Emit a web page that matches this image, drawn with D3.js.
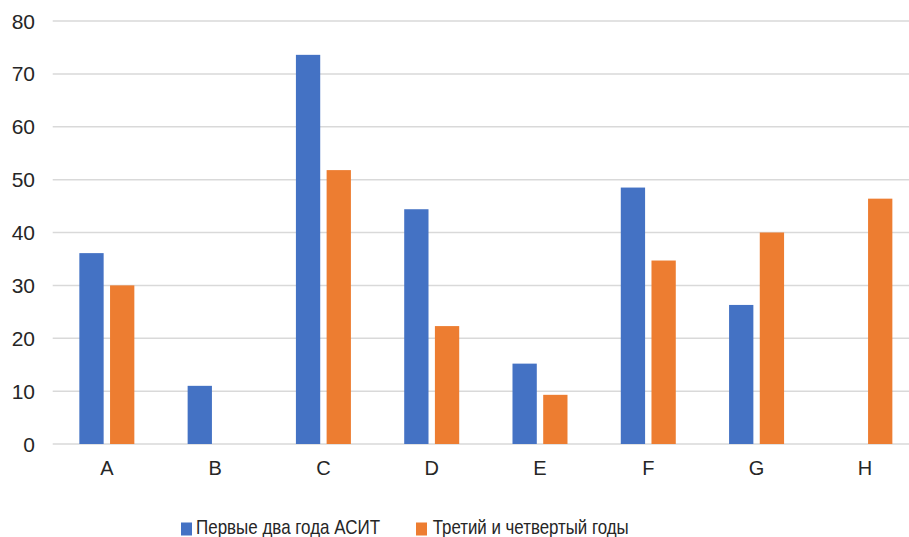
<!DOCTYPE html>
<html><head><meta charset="utf-8">
<script src="https://cdn.jsdelivr.net/npm/d3@7/dist/d3.min.js"></script>
<style>body{margin:0;background:#fff}svg{display:block}text{font-family:"Liberation Sans",Arial,sans-serif;fill:#262626}</style>
</head><body><svg id="c" width="909" height="537"></svg>
<script>
const categories = ["A","B","C","D","E","F","G","H"];
const seriesNames = ["Первые два года АСИТ","Третий и четвертый годы"];
const firstTwoYears = [36.1, 11.0, 73.6, 44.4, 15.2, 48.5, 26.3, null];
const thirdFourthYears = [30.0, null, 51.8, 22.3, 9.3, 34.7, 40.0, 46.4];
const yTicks = [0,10,20,30,40,50,60,70,80];
const colors = ["#4472C4","#ED7D31"];

const svg = d3.select("#c");
const mLeft = 52.7, mRight = 919, mTop = 21, mBottom = 444;
const y = d3.scaleLinear().domain([0,80]).range([mBottom, mTop]);
const x0 = d3.scaleBand().domain(categories).range([mLeft, mRight]).padding(0);
const groupW = 55, off = (x0.bandwidth() - groupW) / 2;
const x1 = d3.scaleBand().domain([0,1]).range([off, off + groupW]).paddingInner(0.2085);

// gridlines
svg.append("g").selectAll("line").data(yTicks).join("line")
  .attr("x1", mLeft).attr("x2", mRight)
  .attr("y1", d => y(d)).attr("y2", d => y(d))
  .attr("stroke", "#d9d9d9").attr("stroke-width", 1.5);

// y labels
svg.append("g").selectAll("text").data(yTicks).join("text")
  .attr("x", 35).attr("y", d => y(d)).attr("dy", "0.36em")
  .attr("text-anchor", "end").attr("font-size", 21).text(d => d);

// bars
const series = [firstTwoYears, thirdFourthYears];
series.forEach((vals, si) => {
  svg.append("g").selectAll("rect")
    .data(categories.map((c, i) => ({c, v: vals[i]})).filter(d => d.v != null))
    .join("rect")
    .attr("x", d => x0(d.c) + x1(si))
    .attr("width", x1.bandwidth())
    .attr("y", d => y(d.v))
    .attr("height", d => y(0) - y(d.v))
    .attr("fill", colors[si]);
});

// x labels
svg.append("g").selectAll("text").data(categories).join("text")
  .attr("x", d => x0(d) + x0.bandwidth()/2).attr("y", 475)
  .attr("text-anchor", "middle").attr("font-size", 20).text(d => d);

// legend
const legX = [181, 416], legTextX = [196, 432.7], legW = [184, 196];
seriesNames.forEach((n, i) => {
  svg.append("rect").attr("x", legX[i]).attr("y", 522.5).attr("width", 11).attr("height", 13).attr("fill", colors[i]);
  svg.append("text").attr("x", legTextX[i]).attr("y", 534).attr("font-size", 21)
    .attr("textLength", legW[i]).attr("lengthAdjust", "spacingAndGlyphs").text(n);
});
</script></body></html>
